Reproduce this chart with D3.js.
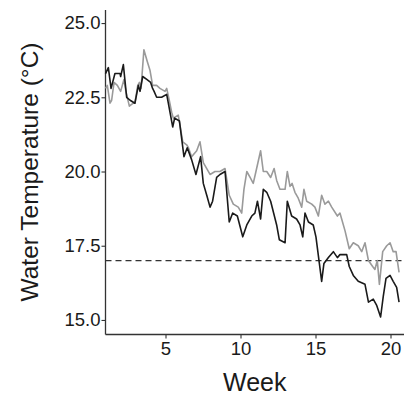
<!DOCTYPE html>
<html>
<head>
<meta charset="utf-8">
<script src="https://cdn.jsdelivr.net/npm/d3@7"></script>
<style>
  body { margin: 0; background: #fff; }
  svg { display: block; font-family: "Liberation Sans", Arial, sans-serif; }
</style>
</head>
<body>
<script>
// black series (site A)
const weeksA = [1.00, 1.19, 1.37, 1.63, 1.97, 2.01, 2.19, 2.41, 2.64, 2.96,
  3.19, 3.30, 3.48, 3.75, 4.01, 4.14, 4.24, 4.41, 4.74, 5.08,
  5.48, 5.61, 5.93, 6.23, 6.45, 6.74, 7.03, 7.34, 7.52, 7.75,
  7.97, 8.14, 8.41, 8.63, 8.97, 9.25, 9.48, 9.79, 10.15, 10.42,
  10.75, 10.96, 11.13, 11.34, 11.52, 11.75, 12.01, 12.41, 12.59, 12.97,
  13.12, 13.41, 13.74, 13.97, 14.15, 14.30, 14.53, 14.85, 15.03, 15.26,
  15.41, 15.56, 15.86, 16.19, 16.46, 16.63, 17.08, 17.25, 17.52, 17.85,
  18.30, 18.53, 18.85, 19.07, 19.34, 19.52, 19.70, 19.97, 20.18, 20.41, 20.57];
const tempsA = [23.3, 23.5, 22.8, 23.3, 23.3, 23.2, 23.6, 22.5, 22.4, 22.3,
  22.9, 22.7, 23.2, 23.1, 23.0, 22.8, 22.7, 22.5, 22.5, 22.6,
  21.5, 21.8, 21.7, 20.5, 20.8, 20.4, 19.9, 20.5, 19.6, 19.2,
  18.8, 19.0, 19.8, 19.9, 20.0, 18.3, 18.6, 18.5, 17.8, 18.2,
  18.5, 18.6, 19.0, 18.4, 19.4, 19.3, 19.0, 18.2, 17.7, 17.6,
  19.0, 18.5, 18.4, 18.2, 17.8, 18.6, 18.3, 18.2, 17.8, 16.9,
  16.3, 16.9, 17.1, 17.3, 17.1, 17.2, 17.2, 16.8, 16.5, 16.3,
  16.2, 15.6, 15.7, 15.5, 15.1, 15.8, 16.4, 16.5, 16.3, 16.1, 15.6];

// grey series (site B)
const weeksB = [1.00, 1.12, 1.30, 1.41, 1.57, 1.79, 2.01, 2.23, 2.36, 2.59,
  2.85, 2.96, 3.15, 3.26, 3.37, 3.56, 3.79, 3.97, 4.14, 4.41,
  4.63, 4.97, 5.08, 5.25, 5.41, 5.52, 5.85, 6.15, 6.41, 6.53,
  6.74, 7.08, 7.30, 7.52, 7.75, 7.97, 8.30, 8.63, 8.97, 9.25,
  9.52, 9.85, 10.08, 10.23, 10.42, 10.64, 10.85, 11.03, 11.34, 11.52,
  11.75, 12.01, 12.24, 12.41, 12.63, 12.97, 13.12, 13.30, 13.44, 13.63,
  13.85, 14.08, 14.23, 14.41, 14.75, 14.96, 15.19, 15.41, 15.63, 15.86,
  16.08, 16.46, 16.63, 16.97, 17.25, 17.52, 17.85, 18.08, 18.30, 18.53,
  18.81, 18.96, 19.12, 19.26, 19.48, 19.75, 19.97, 20.18, 20.37, 20.57];
const tempsB = [22.8, 22.9, 22.3, 22.4, 23.0, 22.9, 22.7, 23.1, 22.7, 22.2,
  22.3, 22.3, 22.9, 23.0, 22.8, 24.1, 23.7, 23.4, 22.9, 22.9,
  22.8, 22.7, 22.8, 22.4, 22.0, 21.8, 21.9, 21.0, 20.9, 20.8,
  20.5, 20.7, 21.0, 20.3, 20.1, 19.9, 20.0, 20.0, 20.1, 19.2,
  18.9, 18.8, 18.6, 19.4, 20.0, 19.8, 19.6, 20.0, 20.7, 20.0,
  20.0, 19.8, 20.1, 19.7, 19.4, 19.4, 20.0, 19.5, 19.6, 19.3,
  19.1, 18.8, 19.4, 19.0, 18.9, 18.8, 18.5, 19.2, 18.9, 19.0,
  18.8, 18.5, 18.6, 18.0, 17.4, 17.6, 17.5, 17.3, 17.6, 17.0,
  16.8, 16.7, 17.0, 16.2, 17.3, 17.5, 17.6, 17.3, 17.3, 16.6];

const xTicks = [5, 10, 15, 20];
const yTicks = [15, 17.5, 20, 22.5, 25];
const threshold = 17;

const width = 404, height = 397;
const plotLeft = 105.5, plotRight = 404, plotTop = 10, plotBottom = 334.5;

const svg = d3.select('body').append('svg')
  .attr('width', width)
  .attr('height', height);

const x = d3.scaleLinear().domain([1, 20.9]).range([plotLeft, plotRight]);
const y = d3.scaleLinear().domain([14.51, 25.44]).range([plotBottom, plotTop]);

const line = d3.line()
  .x(d => x(d[0]))
  .y(d => y(d[1]));

// axes
const xAxis = svg.append('g')
  .attr('transform', `translate(0,${plotBottom})`)
  .call(d3.axisBottom(x).tickValues(xTicks).tickSize(4).tickPadding(3).tickFormat(d3.format('d')));
const yAxis = svg.append('g')
  .attr('transform', `translate(${plotLeft},0)`)
  .call(d3.axisLeft(y).tickValues(yTicks).tickSize(4).tickPadding(1).tickFormat(d3.format('.1f')));

[xAxis, yAxis].forEach(g => {
  g.select('.domain').attr('stroke', '#333').attr('stroke-width', 1.3);
  g.selectAll('.tick line').attr('stroke', '#333').attr('stroke-width', 1.1);
  g.selectAll('.tick text')
    .attr('fill', '#1a1a1a')
    .style('font-size', '18.5px')
    .style('font-family', '"Liberation Sans", Arial, sans-serif');
});
xAxis.select('.domain').attr('d', `M${plotLeft},0H${plotRight}`);
yAxis.select('.domain').attr('d', `M0,${plotTop}V${plotBottom}`);

// threshold
svg.append('line')
  .attr('x1', plotLeft).attr('x2', plotRight)
  .attr('y1', y(threshold)).attr('y2', y(threshold))
  .attr('stroke', '#333')
  .attr('stroke-width', 1.3)
  .attr('stroke-dasharray', '6,4');

// series
svg.append('path')
  .datum(d3.zip(weeksB, tempsB))
  .attr('d', line)
  .attr('fill', 'none')
  .attr('stroke', '#9a9a9a')
  .attr('stroke-width', 1.6)
  .attr('stroke-linejoin', 'round');

svg.append('path')
  .datum(d3.zip(weeksA, tempsA))
  .attr('d', line)
  .attr('fill', 'none')
  .attr('stroke', '#1a1a1a')
  .attr('stroke-width', 1.6)
  .attr('stroke-linejoin', 'round');

// titles
svg.append('text')
  .attr('x', (plotLeft + plotRight) / 2)
  .attr('y', 391)
  .attr('text-anchor', 'middle')
  .attr('fill', '#1a1a1a')
  .style('font-size', '25px')
  .text('Week');

svg.append('text')
  .attr('transform', `translate(38,172) rotate(-90)`)
  .attr('text-anchor', 'middle')
  .attr('fill', '#1a1a1a')
  .style('font-size', '24.5px')
  .text('Water Temperature (°C)');
</script>
</body>
</html>
